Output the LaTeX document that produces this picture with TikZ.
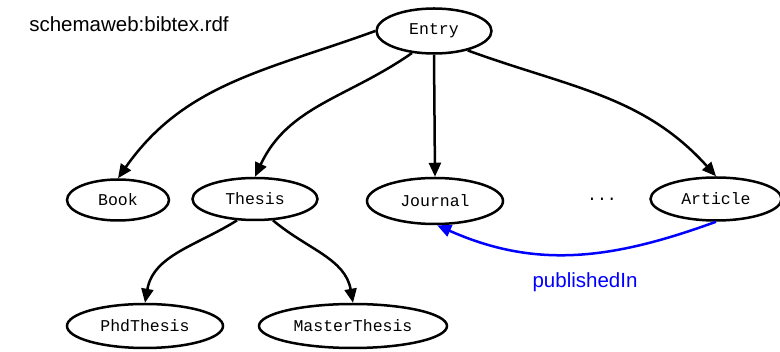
\documentclass[tikz,border=0pt]{standalone}
\usepackage{fontspec}
\setmainfont{Liberation Sans}
\newfontfamily\monofont{Liberation Mono}
\usetikzlibrary{shapes.geometric,arrows.meta}
\tikzset{
  cls/.style={ellipse, draw, line width=2.5pt, inner sep=0pt, font=\monofont\fontsize{16.5}{18}\selectfont},
  edge/.style={line width=2.5pt, -{Triangle[length=14pt,width=12pt]}},
  rel/.style={edge, draw=blue},
}
\begin{document}
\begin{tikzpicture}[x=1pt,y=-1pt]
\useasboundingbox (0,0) rectangle (780,352);
\node[font=\fontsize{20.5}{24}\selectfont] (title) at (129,24) {schemaweb:bibtex.rdf};
\node[cls, minimum width=115, minimum height=45] (entry) at (434,31) {Entry};
\node[cls, minimum width=102, minimum height=41] (book) at (118,200) {Book};
\node[cls, minimum width=125, minimum height=42] (thesis) at (255,199) {Thesis};
\node[cls, minimum width=136, minimum height=46] (journal) at (435,201) {Journal};
\node[font=\monofont\fontsize{16.5}{18}\selectfont] (dots) at (602,199) {...};
\node[cls, minimum width=131, minimum height=43] (article) at (716,199) {Article};
\node[cls, minimum width=156, minimum height=44] (phd) at (145,326) {PhdThesis};
\node[cls, minimum width=188, minimum height=44] (master) at (353,326) {MasterThesis};
\draw[edge] (entry.west) to[out=200,in=55] (book.north);
\draw[edge] (entry.225) to[out=215,in=65] (thesis.north);
\draw[edge] (entry.south) -- (journal.north);
\draw[edge] (entry.-30) to[out=-20,in=132] (article.north);
\draw[edge] (thesis.230) to[out=212,in=80] (phd.north);
\draw[edge] (thesis.-50) to[out=-40,in=100] (master.north);
\draw[rel] (article.south) to[out=-160,in=-24] (journal.-85);
\node[text=blue, font=\fontsize{20.5}{24}\selectfont] (lbl) at (585,282) {publishedIn};
\end{tikzpicture}
\end{document}
